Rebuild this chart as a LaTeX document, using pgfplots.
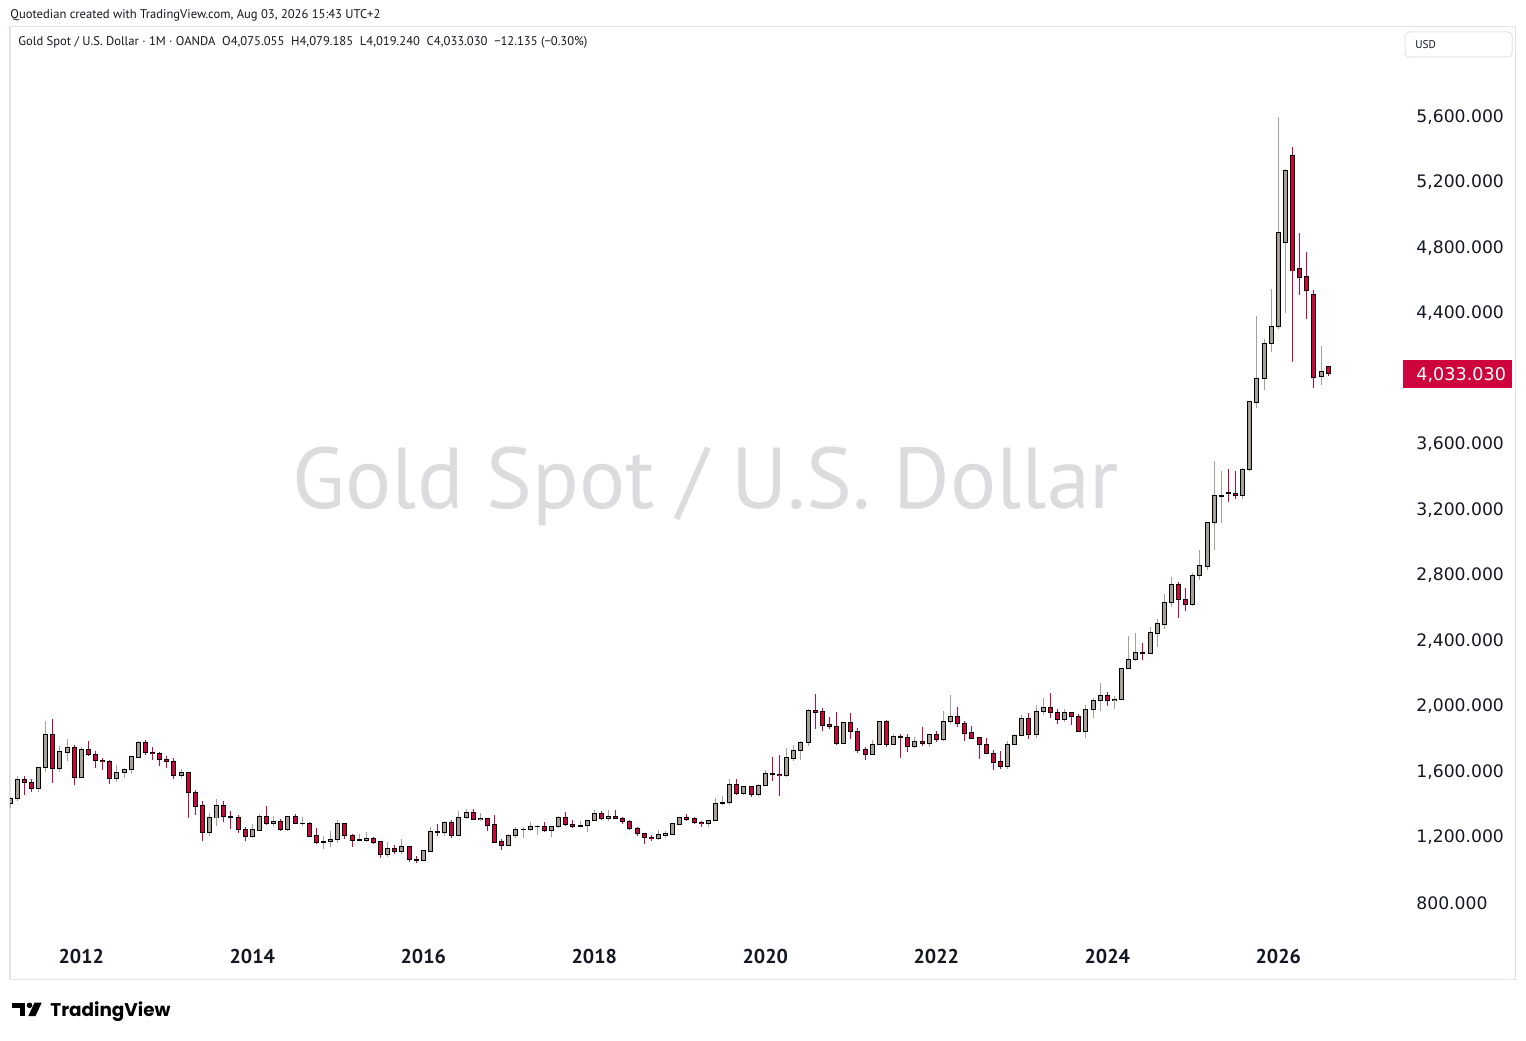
\documentclass[border=0pt]{standalone}
\usepackage{pgfplots}
\pgfplotsset{compat=1.18}
\usepackage{pgfplotstable}
\usepackage{fontspec}
\setmainfont{DejaVu Sans}
\newfontfamily\ptsans{PT Sans}
\newfontfamily\poppins{Poppins}
\definecolor{tvgrey}{RGB}{167,160,151}
\definecolor{tvred}{RGB}{205,5,60}
\definecolor{tvtext}{RGB}{19,23,34}
\definecolor{tvframe}{RGB}{224,227,235}
\definecolor{tvwm}{RGB}{220,220,222}

\pgfplotstableread{
t o h l c
-10 1409 1447 1381 1439
-9 1439 1575 1422 1556
-8 1556 1577 1462 1536
-7 1536 1556 1478 1500
-6 1500 1632 1478 1628
-5 1628 1913 1600 1826
-4 1826 1921 1535 1620
-3 1620 1756 1600 1722
-2 1722 1803 1670 1746
-1 1746 1764 1523 1565
0 1565 1755 1563 1737
1 1737 1791 1696 1705
2 1705 1730 1627 1669
3 1669 1686 1613 1664
4 1664 1676 1527 1560
5 1560 1640 1540 1598
6 1598 1627 1564 1615
7 1615 1700 1590 1691
8 1691 1790 1691 1776
9 1776 1796 1703 1719
10 1719 1754 1672 1714
11 1714 1723 1636 1675
12 1675 1696 1626 1663
13 1663 1685 1555 1579
14 1579 1616 1562 1596
15 1596 1600 1321 1476
16 1476 1487 1338 1393
17 1393 1424 1180 1234
18 1234 1348 1208 1320
19 1320 1434 1271 1396
20 1396 1424 1292 1327
21 1327 1361 1251 1323
22 1323 1340 1227 1250
23 1250 1267 1180 1205
24 1205 1280 1200 1245
25 1245 1345 1240 1326
26 1326 1392 1277 1288
27 1288 1331 1268 1294
28 1294 1315 1240 1250
29 1250 1332 1240 1327
30 1327 1345 1282 1285
31 1285 1324 1273 1287
32 1287 1296 1205 1210
33 1210 1255 1160 1172
34 1172 1208 1131 1174
35 1174 1238 1142 1186
36 1186 1308 1167 1283
37 1283 1290 1191 1213
38 1213 1220 1142 1183
39 1183 1224 1178 1184
40 1184 1232 1170 1190
41 1190 1205 1162 1172
42 1172 1175 1077 1095
43 1095 1170 1080 1133
44 1133 1157 1098 1115
45 1115 1191 1097 1142
46 1142 1150 1052 1065
47 1065 1088 1046 1061
48 1061 1123 1060 1118
49 1118 1263 1110 1238
50 1238 1282 1208 1234
51 1234 1303 1207 1293
52 1293 1304 1199 1215
53 1215 1362 1208 1322
54 1322 1375 1310 1351
55 1351 1375 1306 1309
56 1309 1352 1302 1316
57 1316 1318 1241 1277
58 1277 1337 1171 1173
59 1173 1188 1122 1152
60 1152 1220 1146 1211
61 1211 1264 1194 1249
62 1249 1262 1195 1250
63 1250 1295 1240 1268
64 1268 1274 1214 1269
65 1269 1296 1236 1242
66 1242 1270 1204 1269
67 1269 1331 1258 1322
68 1322 1357 1271 1280
69 1280 1306 1260 1271
70 1271 1299 1264 1275
71 1275 1307 1236 1303
72 1303 1366 1302 1345
73 1345 1361 1307 1318
74 1318 1365 1303 1325
75 1325 1366 1310 1316
76 1316 1326 1282 1299
77 1299 1309 1245 1253
78 1253 1266 1210 1224
79 1224 1227 1160 1201
80 1201 1214 1180 1192
81 1192 1243 1182 1215
82 1215 1237 1196 1222
83 1222 1284 1221 1282
84 1282 1326 1275 1321
85 1321 1346 1303 1313
86 1313 1324 1281 1292
87 1292 1302 1266 1284
88 1284 1306 1267 1305
89 1305 1439 1302 1409
90 1409 1453 1400 1413
91 1413 1555 1400 1520
92 1520 1557 1459 1472
93 1472 1517 1459 1513
94 1513 1516 1445 1464
95 1464 1525 1454 1517
96 1517 1611 1517 1589
97 1589 1689 1547 1585
98 1585 1703 1451 1577
99 1577 1747 1568 1686
100 1686 1765 1670 1730
101 1730 1789 1671 1781
102 1781 1984 1757 1975
103 1975 2075 1863 1967
104 1967 1992 1848 1886
105 1886 1933 1860 1879
106 1879 1965 1764 1776
107 1776 1906 1776 1898
108 1898 1959 1802 1847
109 1847 1871 1717 1734
110 1734 1755 1676 1708
111 1708 1798 1708 1769
112 1769 1912 1766 1907
113 1907 1917 1750 1770
114 1770 1834 1767 1814
115 1814 1834 1687 1812
116 1812 1834 1721 1757
117 1757 1814 1746 1783
118 1783 1877 1759 1775
119 1775 1831 1753 1829
120 1829 1853 1780 1797
121 1797 1974 1786 1909
122 1909 2070 1895 1937
123 1937 1998 1872 1897
124 1897 1910 1787 1837
125 1837 1879 1805 1807
126 1807 1814 1681 1766
127 1766 1808 1709 1711
128 1711 1735 1614 1660
129 1660 1729 1617 1633
130 1633 1787 1616 1768
131 1768 1833 1765 1824
132 1824 1949 1823 1928
133 1928 1960 1804 1827
134 1827 2010 1810 1969
135 1969 2049 1950 1990
136 1990 2079 1932 1963
137 1963 1983 1893 1919
138 1919 1987 1903 1965
139 1965 1966 1885 1940
140 1940 1953 1848 1849
141 1849 2009 1810 1983
142 1983 2052 1931 2036
143 2036 2146 1973 2063
144 2063 2088 2001 2039
145 2039 2065 1984 2044
146 2044 2236 2039 2230
147 2230 2431 2229 2286
148 2286 2450 2277 2327
149 2327 2387 2286 2326
150 2326 2483 2320 2448
151 2448 2531 2364 2503
152 2503 2685 2472 2635
153 2635 2790 2604 2744
154 2744 2761 2537 2651
155 2651 2726 2583 2625
156 2625 2817 2614 2798
157 2798 2956 2772 2858
158 2858 3128 2832 3124
159 3124 3500 2957 3289
160 3285 3435 3121 3289
161 3305 3452 3247 3301
162 3301 3439 3268 3290
163 3290 3453 3268 3448
164 3448 3865 3436 3858
165 3858 4382 3822 4001
166 4001 4241 3932 4215
167 4215 4547 4166 4319
168 4319 5597 4307 4893
169 4830 5280 4402 5273
170 5363 5412 4103 4659
171 4673 4889 4512 4618
172 4624 4773 4366 4539
173 4514 4545 3944 4007
174 4013 4199 3962 4044
175 4075.055 4079.185 4019.24 4033.03
}\gold

\begin{document}
\begin{tikzpicture}
\fill[white] (0,0) rectangle (763pt,520pt);
% watermark
\node[anchor=base, text=tvwm, inner sep=0pt, font=\ptsans\fontsize{43.2pt}{44pt}\selectfont] at (353pt,265.5pt) {Gold Spot / U.S. Dollar};
\begin{axis}[
  at={(5pt,30.35pt)}, anchor=south west,
  scale only axis, width=752.75pt, height=476.3pt,
  xmin=-10.007, xmax=201.29, ymin=334.4, ymax=6149.3,
  axis line style={draw=tvframe, line width=0.75pt},
  major tick length=0pt,
  xtick={0,24,48,72,96,120,144,168},
  xticklabels={2012,2014,2016,2018,2020,2022,2024,2026},
  xticklabel style={anchor=center, yshift=11.55pt, inner sep=0pt, text=tvtext, font=\ptsans\bfseries\fontsize{10pt}{12pt}\selectfont},
  ytick={800,1200,1600,2000,2400,2800,3200,3600,4400,4800,5200,5600},
  yticklabels={800.000,{1,200.000},{1,600.000},{2,000.000},{2,400.000},{2,800.000},{3,200.000},{3,600.000},{4,400.000},{4,800.000},{5,200.000},{5,600.000}},
  yticklabel pos=right,
  yticklabel style={anchor=west, xshift=-49.75pt, inner sep=0pt, text=tvtext, font=\fontsize{8.6pt}{10pt}\selectfont},
  clip mode=individual,
]
% wicks
\addplot[tvgrey, line width=0.5pt, quiver={u=0, v=\thisrow{h}-\thisrow{l}},
  restrict expr to domain={\thisrow{c}-\thisrow{o}}{0:100000}]
  table[x=t, y=l] {\gold};
\addplot[tvred, line width=0.5pt, quiver={u=0, v=\thisrow{h}-\thisrow{l}},
  restrict expr to domain={\thisrow{c}-\thisrow{o}}{-100000:-0.0001}]
  table[x=t, y=l] {\gold};
% body outlines
\addplot[black, line width=2.5pt, quiver={u=0, v=abs(\thisrow{c}-\thisrow{o})+8}]
  table[x=t, y expr={min(\thisrow{o},\thisrow{c})-4}] {\gold};
% body fills
\addplot[tvgrey, line width=1.5pt, quiver={u=0, v=abs(\thisrow{c}-\thisrow{o})-4},
  restrict expr to domain={\thisrow{c}-\thisrow{o}}{4.01:100000}]
  table[x=t, y expr={min(\thisrow{o},\thisrow{c})+2}] {\gold};
\addplot[tvred, line width=1.5pt, quiver={u=0, v=abs(\thisrow{c}-\thisrow{o})-4},
  restrict expr to domain={\thisrow{c}-\thisrow{o}}{-100000:-4.01}]
  table[x=t, y expr={min(\thisrow{o},\thisrow{c})+2}] {\gold};
% last price label
\fill[tvred] (axis cs:185.46,3942) rectangle (axis cs:200.76,4114.8);
\node[anchor=west, inner sep=0pt, text=white, font=\fontsize{8.8pt}{10pt}\selectfont] at (axis cs:187.33,4022) {4,033.030};
\end{axis}
% header
\node[anchor=base west, inner sep=0pt, text=tvtext, font=\ptsans\fontsize{6.3pt}{7pt}\selectfont] at (5pt,510.75pt) {Quotedian created with TradingView.com, Aug 03, 2026 15:43 UTC+2};
\node[anchor=base west, inner sep=0pt, text=tvtext, font=\ptsans\fontsize{6.3pt}{7pt}\selectfont] at (9pt,497.25pt) {Gold Spot / U.S. Dollar · 1M · OANDA\ \ O4,075.055\ \ H4,079.185\ \ L4,019.240\ \ C4,033.030\ \ −12.135 (−0.30\%)};
% USD box
\draw[tvframe, line width=0.5pt, rounded corners=2pt] (702.5pt,491.5pt) rectangle (756pt,504pt);
\node[anchor=west, inner sep=0pt, text=tvtext, font=\ptsans\fontsize{5.6pt}{7pt}\selectfont] at (707.5pt,497.75pt) {USD};
% TradingView logo
\fill[black] (6.15pt,18.65pt) rectangle (12.5pt,16.15pt);
\fill[black] (9.75pt,18.65pt) rectangle (12.5pt,12pt);
\fill[black] (14.75pt,17.35pt) circle (1.4pt);
\fill[black] (17.25pt,18.65pt) -- (20.85pt,18.65pt) -- (17.75pt,12pt) -- (14.15pt,12pt) -- cycle;
\node[anchor=base west, inner sep=0pt, text=black, font=\poppins\bfseries\fontsize{9.2pt}{11pt}\selectfont] at (25pt,12pt) {TradingView};
\end{tikzpicture}
\end{document}
